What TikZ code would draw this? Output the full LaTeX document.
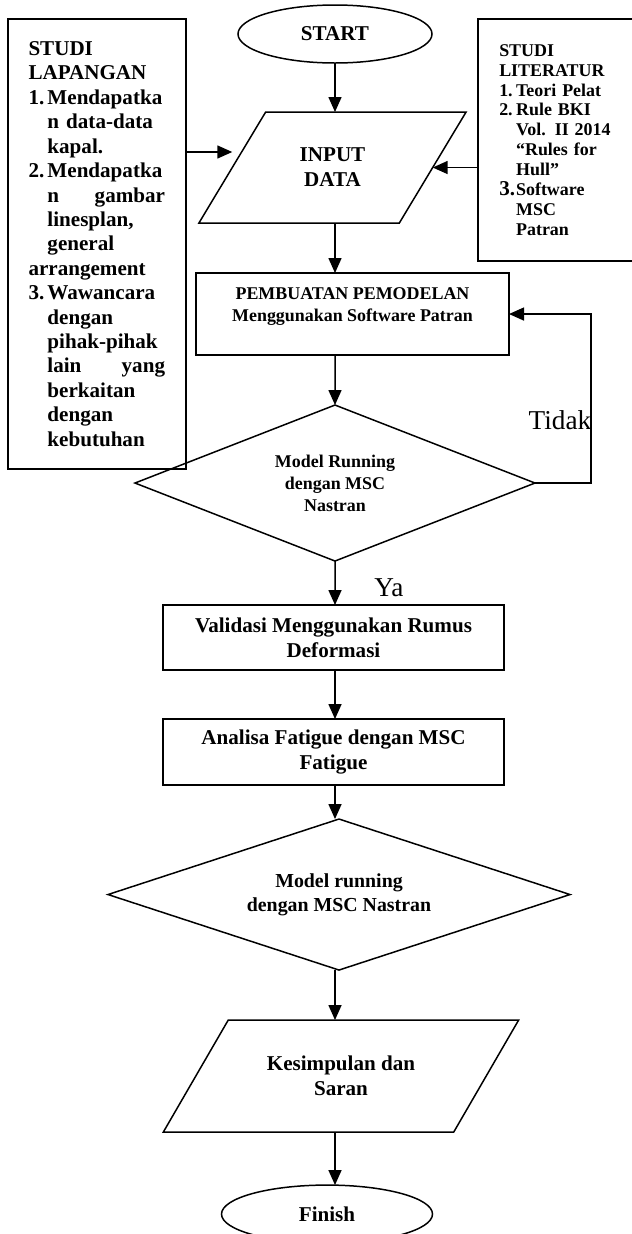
\documentclass[tikz,border=0pt]{standalone}
\usepackage{fontspec}
\setmainfont{Liberation Serif}
\usepackage{tikz}
\usetikzlibrary {arrows.meta,
                 positioning,
                 shapes.geometric}
\newcommand{\itemno}[2]{\makebox[#1][l]{#2}}
\tikzset{
        base/.style={draw, line width=0.85pt, align=center, outer sep=0pt,
                     font=\bfseries\fontsize{12}{14.2}\selectfont},
        small/.style={font=\bfseries\fontsize{10.2}{12.5}\selectfont},
        term/.style={base, ellipse, minimum width=38.8mm, minimum height=11.6mm},
        io/.style={base, trapezium, trapezium stretches=true,
                   minimum height=22.2mm},
        proc/.style={base, rectangle, minimum width=68.2mm, minimum height=13mm},
        test/.style={base, diamond},
        infobox/.style={base, rectangle, align=left, inner xsep=4.1mm,
                        anchor=north west},
        note/.style={font=\fontsize{15.5}{18}\selectfont, inner sep=0pt},
        myarrow/.style={-{Triangle[width=2.6mm, length=3mm]}, line width=0.85pt},
 }

\begin{document}
\begin{tikzpicture}[x=0.2mm, y=-0.2mm]
    \useasboundingbox (0,0) rectangle (632,1234);
    % main flow
    \node[term] (start) at (335,34) {START};
    \node[io, trapezium left angle=52.6, trapezium right angle=127.4,
          minimum width=53.8mm, below=9.8mm of start, xshift=-0.5mm] (input) {INPUT\\DATA};
    \node[proc, small, minimum width=62.6mm, minimum height=16.4mm, text depth=3.6mm,
          below=10mm of input, xshift=4mm] (pemb) {PEMBUATAN PEMODELAN\\Menggunakan Software Patran};
    \node[test, small, aspect=2.56, minimum width=80mm, minimum height=31.2mm,
          below=10mm of pemb, xshift=-3.5mm] (run1) {Model Running\\dengan MSC\\Nastran};
    \node[proc, below=8.8mm of run1, xshift=-0.3mm] (valid) {Validasi Menggunakan Rumus\\Deformasi};
    \node[proc, minimum height=13.2mm, below=9.8mm of valid] (analisa) {Analisa Fatigue dengan MSC\\Fatigue};
    \node[test, font=\bfseries\fontsize{11.3}{13.6}\selectfont, aspect=3.06,
          minimum width=92.4mm, minimum height=30.2mm,
          below=6.8mm of analisa, xshift=1.1mm] (run2) {Model running\\dengan MSC Nastran};
    \node[io, trapezium left angle=48.2, trapezium right angle=131.8,
          minimum width=71.2mm, minimum height=22.4mm,
          below=10mm of run2, xshift=0.4mm] (kes) {Kesimpulan dan\\Saran};
    \node[term, minimum width=42.2mm, below=10.6mm of kes, xshift=-2.8mm] (fin) {Finish};

    % side boxes
    \node[infobox, font=\bfseries\fontsize{12}{13.9}\selectfont, text width=27.4mm,
          minimum width=35.6mm, minimum height=90mm] (lapangan) at (8,19)
         {STUDI\\LAPANGAN\\
          \itemno{10.8pt}{1.}Mendapatka\\\itemno{10.8pt}{}n data-data\\\itemno{10.8pt}{}kapal.\\
          \itemno{10.8pt}{2.}Mendapatka\\\itemno{10.8pt}{}\makebox[66.9pt][l]{n\hfill gambar}\\
          \itemno{10.8pt}{}linesplan,\\\itemno{10.8pt}{}general\\arrangement\\
          \itemno{10.8pt}{3.}Wawancara\\\itemno{10.8pt}{}dengan\\\itemno{10.8pt}{}pihak-pihak\\
          \itemno{10.8pt}{}\makebox[66.9pt][l]{lain\hfill yang}\\\itemno{10.8pt}{}berkaitan\\
          \itemno{10.8pt}{}dengan\\\itemno{10.8pt}{}kebutuhan};
    \node[infobox, font=\bfseries\fontsize{10.2}{11.34}\selectfont, text width=23.1mm,
          minimum width=31.6mm, minimum height=48.4mm] (literatur) at (478,19)
         {STUDI\\LITERATUR\\
          \itemno{9.6pt}{1.}Teori Pelat\\
          \itemno{9.6pt}{2.}Rule BKI\\\itemno{9.6pt}{}Vol. II 2014\\\itemno{9.6pt}{}“Rules for\\
          \itemno{9.6pt}{}Hull”\\
          \itemno{9.6pt}{\fontsize{12}{12}\selectfont 3.}Software\\\itemno{9.6pt}{}MSC\\
          \itemno{9.6pt}{}Patran};

    % labels
    \node[note] (tidak) at (560,420) {Tidak};
    \node[note] (ya) at (389,588) {Ya};

    % connectors
    \draw[myarrow] (start) -- (start |- input.north);
    \draw[myarrow] (start |- input.south) -- (start |- pemb.north);
    \draw[myarrow] (start |- pemb.south) -- (run1.north);
    \draw[myarrow] (run1.south) -- (start |- valid.north);
    \draw[myarrow] (start |- valid.south) -- (start |- analisa.north);
    \draw[myarrow] (start |- analisa.south) -- (start |- run2.north);
    \draw[myarrow] (start |- run2.south) -- (start |- kes.north);
    \draw[myarrow] (start |- kes.south) -- (start |- fin.north);
    \draw[myarrow] (lapangan.east |- 0,152) -- (input.west |- 0,152);
    \draw[myarrow] (literatur.west |- input.east) -- (input.east);
    \draw[myarrow] (run1.east) -- ++(56,0) |- (pemb.east);
\end{tikzpicture}
\end{document}
